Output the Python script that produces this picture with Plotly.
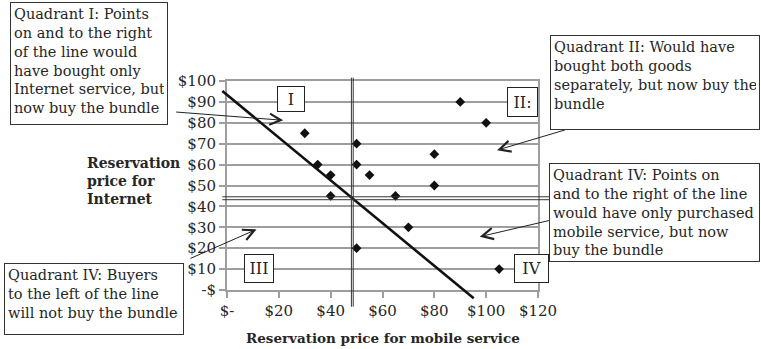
import plotly.graph_objects as go

# Reservation prices of individual buyers
mobile_price = [30, 35, 40, 40, 50, 50, 50, 55, 65, 70, 80, 80, 90, 100, 105]
internet_price = [75, 60, 55, 45, 70, 60, 20, 55, 45, 30, 65, 50, 90, 80, 10]

# Tick labels
x_ticks = [0, 20, 40, 60, 80, 100, 120]
x_tick_text = ["$-", "$20", "$40", "$60", "$80", "$100", "$120"]
y_ticks = [0, 10, 20, 30, 40, 50, 60, 70, 80, 90, 100]
y_tick_text = ["-$", "$10", "$20", "$30", "$40", "$50", "$60", "$70", "$80", "$90", "$100"]

# Bundle price line (mobile + internet = bundle)
bundle_line_x = [-1.8, 95.2]
bundle_line_y = [95.2, -4.0]

# Stand-alone price reference lines (drawn doubled)
mobile_cut = [48.0, 48.7]
mobile_cut_span = [-8.0, 101.6]
internet_cut = [44.6, 43.2]
internet_cut_span = [-1.8, 124.5]

X_RANGE = [0, 120]
Y_RANGE = [0, 100]

W, H = 761, 349
L, R, T, B = 227, 223, 81, 59
PW, PH = W - L - R, H - T - B

SERIF = "DejaVu Serif"
GRID = "#9e9e9e"
INK = "#262626"


def dx(v):
    return (v - X_RANGE[0]) / (X_RANGE[1] - X_RANGE[0])


def dy(v):
    return (v - Y_RANGE[0]) / (Y_RANGE[1] - Y_RANGE[0])


def xp(px):
    return (px - L) / PW


def yp(py):
    return (H - B - py) / PH


fig = go.Figure()
fig.add_trace(go.Scatter(
    x=mobile_price, y=internet_price, mode="markers",
    marker=dict(symbol="diamond", size=7.5, color="#111111"),
    cliponaxis=False, showlegend=False, hoverinfo="skip",
))

shapes = []
# bundle line
shapes.append(dict(type="line", xref="paper", yref="paper",
                   x0=dx(bundle_line_x[0]), y0=dy(bundle_line_y[0]),
                   x1=dx(bundle_line_x[1]), y1=dy(bundle_line_y[1]),
                   line=dict(color="#111111", width=2.6), layer="above"))
for xv in mobile_cut:
    shapes.append(dict(type="line", xref="paper", yref="paper",
                       x0=dx(xv), x1=dx(xv),
                       y0=dy(mobile_cut_span[0]), y1=dy(mobile_cut_span[1]),
                       line=dict(color="#333333", width=1), layer="above"))
for yv in internet_cut:
    shapes.append(dict(type="line", xref="paper", yref="paper",
                       x0=dx(internet_cut_span[0]), x1=dx(internet_cut_span[1]),
                       y0=dy(yv), y1=dy(yv),
                       line=dict(color="#333333", width=1), layer="above"))

annotations = []


def text_box(left, top, right, bottom, text, size=14.5):
    pad, bw = 3, 1
    annotations.append(dict(
        xref="paper", yref="paper", x=xp(left), y=yp(top),
        xanchor="left", yanchor="top", align="left", valign="top",
        width=right - left - 2 * pad - 2 * bw,
        height=bottom - top - 2 * pad - 2 * bw,
        text=text, showarrow=False,
        font=dict(family=SERIF, size=size, color=INK),
        bgcolor="white", bordercolor="#333333", borderwidth=bw, borderpad=pad,
    ))


def label_box(left, top, right, bottom, text):
    pad, bw = 1, 1
    annotations.append(dict(
        xref="paper", yref="paper", x=xp(left), y=yp(top),
        xanchor="left", yanchor="top", align="center", valign="middle",
        width=right - left - 2 * pad - 2 * bw,
        height=bottom - top - 2 * pad - 2 * bw,
        text=text, showarrow=False,
        font=dict(family=SERIF, size=16, color=INK),
        bgcolor="white", bordercolor="#222222", borderwidth=bw, borderpad=pad,
    ))


def arrow(tail, head):
    annotations.append(dict(
        xref="x", yref="y", axref="x", ayref="y",
        x=head[0], y=head[1], ax=tail[0], ay=tail[1],
        text="", showarrow=True, arrowhead=5, arrowsize=2.2,
        arrowwidth=1, arrowcolor="#222222", standoff=0, startstandoff=0,
    ))


arrow((-20.2, 85.2), (21.7, 81.2))
arrow((131.0, 76.8), (104.2, 66.9))
arrow((124.8, 33.4), (97.5, 25.5))
arrow((-14.7, 14.8), (11.4, 29.0))

text_box(10, 2, 168, 125,
         "Quadrant I: Points<br>on and to the right<br>of the line would<br>"
         "have bought only<br>Internet service, but<br>now buy the bundle")
text_box(550, 35, 760, 130,
         "Quadrant II: Would have<br>bought both goods<br>"
         "separately, but now buy the<br>bundle")
text_box(549, 163, 760, 262,
         "Quadrant IV: Points on<br>and to the right of the line<br>"
         "would have only purchased<br>mobile service, but now<br>buy the bundle")
text_box(4, 263, 184, 335,
         "Quadrant IV: Buyers<br>to the left of the line<br>will not buy the bundle")

label_box(277, 86, 305, 112, "I")
label_box(507, 87, 538, 117, "II:")
label_box(244, 254, 274, 283, "III")
label_box(514, 254, 549, 283, "IV")

annotations.append(dict(
    xref="paper", yref="paper", x=xp(85), y=yp(153), xanchor="left", yanchor="top",
    align="left", showarrow=False,
    text="<b>Reservation<br>price for<br>Internet</b>",
    font=dict(family=SERIF, size=14, color=INK),
))
annotations.append(dict(
    xref="paper", yref="paper", x=0.5, y=yp(338), xanchor="center", yanchor="middle",
    showarrow=False, text="<b>Reservation price for mobile service</b>",
    font=dict(family=SERIF, size=13.5, color=INK),
))

fig.update_layout(
    width=W, height=H,
    margin=dict(l=L, r=R, t=T, b=B, pad=0),
    paper_bgcolor="white", plot_bgcolor="white",
    shapes=shapes, annotations=annotations,
    xaxis=dict(range=X_RANGE, tickvals=x_ticks, ticktext=x_tick_text,
               showgrid=False, zeroline=False, showline=True, mirror=True,
               linecolor=GRID, linewidth=2, ticks="outside", ticklen=6,
               tickcolor=GRID, tickwidth=2,
               tickfont=dict(family=SERIF, size=15, color=INK)),
    yaxis=dict(range=Y_RANGE, tickvals=y_ticks, ticktext=y_tick_text,
               showgrid=True, gridcolor=GRID, gridwidth=2, zeroline=False,
               showline=True, mirror=True, linecolor=GRID, linewidth=2,
               ticks="outside", ticklen=6, tickcolor=GRID, tickwidth=2,
               tickfont=dict(family=SERIF, size=15, color=INK)),
)

fig.write_html("out.html")
